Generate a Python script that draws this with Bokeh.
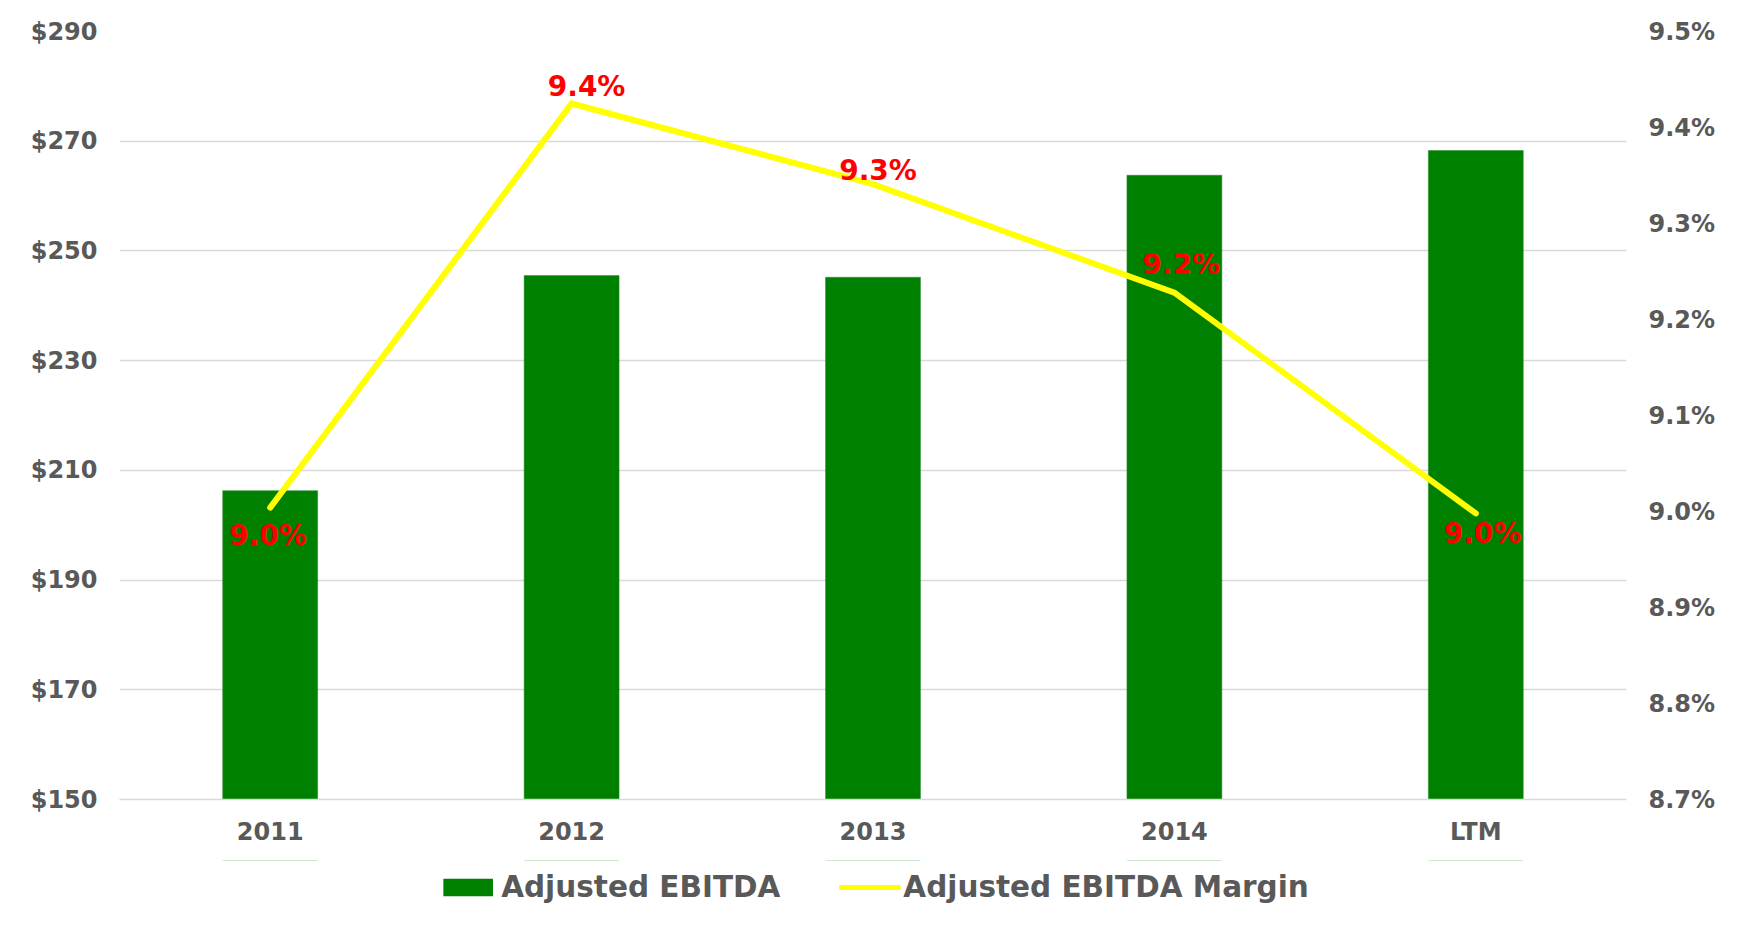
from bokeh.plotting import figure
from bokeh.layouts import column
from bokeh.models import (ColumnDataSource, FactorRange, Range1d, LinearAxis, FixedTicker,
                          PrintfTickFormatter, Legend, LegendItem, BoxAnnotation)
from bokeh.embed import file_html
from bokeh.resources import INLINE
from bokeh.core.properties import value

# ---- data ----
categories = ["2011", "2012", "2013", "2014", "LTM"]
ebitda = [206.3, 245.5, 245.2, 263.8, 268.3]
margin_pct = [9.004, 9.425, 9.341, 9.228, 8.998]
margin_labels = ["9.0%", "9.4%", "9.3%", "9.2%", "9.0%"]
left_ticks = [150, 170, 190, 210, 230, 250, 270, 290]
right_ticks = [8.7, 8.8, 8.9, 9.0, 9.1, 9.2, 9.3, 9.4, 9.5]
series_names = ["Adjusted EBITDA", "Adjusted EBITDA Margin"]

# ---- label placement (style, screen px) ----
label_dx = [-2, 15, 5, 7, 7]
label_dy = [28, -17, -14, -28, 20]

FONT = "DejaVu Sans"
GRAY = "#595959"
GREEN = "#008000"
YELLOW = "#ffff00"

p = figure(width=1727, height=860, output_backend="svg", toolbar_location=None,
           x_range=FactorRange(*categories, range_padding=0),
           y_range=Range1d(left_ticks[0], left_ticks[-1]),
           min_border_left=119, min_border_right=101, min_border_top=31, min_border_bottom=61)
p.extra_y_ranges = {"pct": Range1d(right_ticks[0], right_ticks[-1])}
p.outline_line_color = None
p.background_fill_color = "white"
p.border_fill_color = "white"

src = ColumnDataSource(dict(cat=categories, ebitda=ebitda, pct=margin_pct, lab=margin_labels,
                            dx=label_dx, dy=label_dy))

bars = p.vbar(x="cat", top="ebitda", bottom=left_ticks[0], source=src, width=0.315,
              fill_color=GREEN, line_color="#2e8b2e", line_width=0.5)
line = p.line(x="cat", y="pct", source=src, y_range_name="pct", line_color=YELLOW,
              line_width=6, line_cap="round", line_join="miter")
p.text(x="cat", y="pct", text="lab", source=src, y_range_name="pct",
       x_offset="dx", y_offset="dy", text_align="center", text_baseline="middle",
       text_color="#ff0000", text_font=value(FONT), text_font_size="28px",
       text_font_style="bold")

# left axis
ya = p.yaxis[0]
ya.ticker = FixedTicker(ticks=left_ticks)
ya.formatter = PrintfTickFormatter(format="$%d")
# right axis
ra = LinearAxis(y_range_name="pct", ticker=FixedTicker(ticks=right_ticks),
                formatter=PrintfTickFormatter(format="%.1f%%"))
p.add_layout(ra, "right")

for ax in (ya, ra):
    ax.axis_line_color = None
    ax.major_tick_line_color = None
    ax.minor_tick_line_color = None
    ax.major_tick_out = 0
    ax.major_tick_in = 0
    ax.minor_tick_out = 0
    ax.major_label_standoff = 22
    ax.major_label_text_font = FONT
    ax.major_label_text_font_size = "24px"
    ax.major_label_text_font_style = "bold"
    ax.major_label_text_color = GRAY

xa = p.xaxis[0]
xa.axis_line_color = "#d9d9d9"
xa.axis_line_width = 1.5
xa.major_tick_line_color = None
xa.minor_tick_line_color = None
xa.major_tick_out = 0
xa.major_tick_in = 0
xa.minor_tick_out = 0
xa.major_label_standoff = 18
xa.major_label_text_font = FONT
xa.major_label_text_font_size = "24px"
xa.major_label_text_font_style = "bold"
xa.major_label_text_color = GRAY

p.xgrid.grid_line_color = None
p.ygrid.grid_line_color = "#d9d9d9"
p.ygrid.grid_line_width = 1.5

# ---- legend strip (separate figure below the chart) ----
# Stand-in renderers far outside the strip's y-range, covered by a white box,
# so that only the legend entries are visible.
lg = figure(width=1727, height=54, output_backend="svg", toolbar_location=None,
            x_range=p.x_range, y_range=Range1d(-1001, -1000),
            min_border_left=30, min_border_right=0, min_border_top=0, min_border_bottom=0)
lg.axis.visible = False
lg.grid.visible = False
lg.outline_line_color = None
lg.border_fill_color = "white"
lg.background_fill_color = "white"
lg_bar = lg.vbar(x="cat", top="ebitda", bottom="ebitda", source=src, width=0.315,
                 fill_color=GREEN, line_color=None)
lg_line = lg.line(x="cat", y="pct", source=src, line_color=YELLOW, line_width=5)
lg.add_layout(BoxAnnotation(fill_color="white", fill_alpha=1.0, line_color=None))

legend = Legend(items=[LegendItem(label=series_names[0], renderers=[lg_bar]),
                       LegendItem(label=series_names[1], renderers=[lg_line])],
                orientation="horizontal", location="center",
                label_text_font=FONT, label_text_font_size="29.5px",
                label_text_font_style="bold", label_text_color=GRAY,
                glyph_width=62, glyph_height=22, label_standoff=3, spacing=58,
                padding=0, margin=0, border_line_color=None, background_fill_alpha=0)
lg.add_layout(legend, "center")

open("out.html", "w").write(file_html(column(p, lg, spacing=0), INLINE))
